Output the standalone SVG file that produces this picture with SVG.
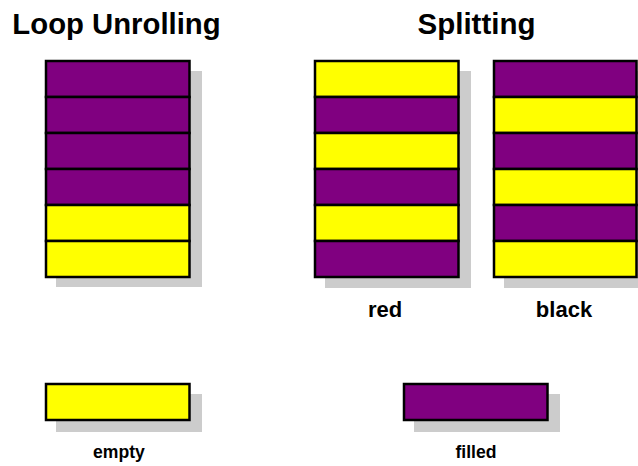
<svg xmlns="http://www.w3.org/2000/svg" width="638" height="466" viewBox="0 0 638 466">
<style>
.t{font-family:"Liberation Sans",Arial,sans-serif;font-weight:bold;fill:#000;text-anchor:middle}
.sh{fill:#cccccc}
.p{fill:#800080;stroke:#000;stroke-width:2.5}
.y{fill:#ffff00;stroke:#000;stroke-width:2.5}
</style>
<rect width="638" height="466" fill="#fff"/>
<text class="t" x="116.5" y="34" font-size="29.3">Loop Unrolling</text>
<text class="t" x="476.5" y="34" font-size="29.5">Splitting</text>
<g id="unrolled">
<rect class="sh" x="56" y="71" width="146" height="216"/>
<rect class="p" x="46" y="61" width="143.5" height="36"/>
<rect class="p" x="46" y="97" width="143.5" height="36"/>
<rect class="p" x="46" y="133" width="143.5" height="36"/>
<rect class="p" x="46" y="169" width="143.5" height="36"/>
<rect class="y" x="46" y="205" width="143.5" height="36"/>
<rect class="y" x="46" y="241" width="143.5" height="36"/>
</g>
<g id="red">
<rect class="sh" x="325" y="71" width="146" height="217"/>
<rect class="y" x="315" y="61" width="143.5" height="36"/>
<rect class="p" x="315" y="97" width="143.5" height="36"/>
<rect class="y" x="315" y="133" width="143.5" height="36"/>
<rect class="p" x="315" y="169" width="143.5" height="36"/>
<rect class="y" x="315" y="205" width="143.5" height="36"/>
<rect class="p" x="315" y="241" width="143.5" height="36"/>
<text class="t" x="385" y="317" font-size="22">red</text>
</g>
<g id="black">
<rect class="sh" x="504" y="71" width="146" height="217"/>
<rect class="p" x="494" y="61" width="142.5" height="36"/>
<rect class="y" x="494" y="97" width="142.5" height="36"/>
<rect class="p" x="494" y="133" width="142.5" height="36"/>
<rect class="y" x="494" y="169" width="142.5" height="36"/>
<rect class="p" x="494" y="205" width="142.5" height="36"/>
<rect class="y" x="494" y="241" width="142.5" height="36"/>
<text class="t" x="564" y="317" font-size="22">black</text>
</g>
<g id="empty">
<rect class="sh" x="56" y="394" width="146" height="38"/>
<rect class="y" x="46" y="384" width="143.5" height="36"/>
<text class="t" x="119" y="458" font-size="17.6">empty</text>
</g>
<g id="filled">
<rect class="sh" x="414" y="394" width="146" height="38"/>
<rect class="p" x="404" y="384" width="143.5" height="36"/>
<text class="t" x="476" y="458" font-size="17.6">filled</text>
</g>
</svg>
